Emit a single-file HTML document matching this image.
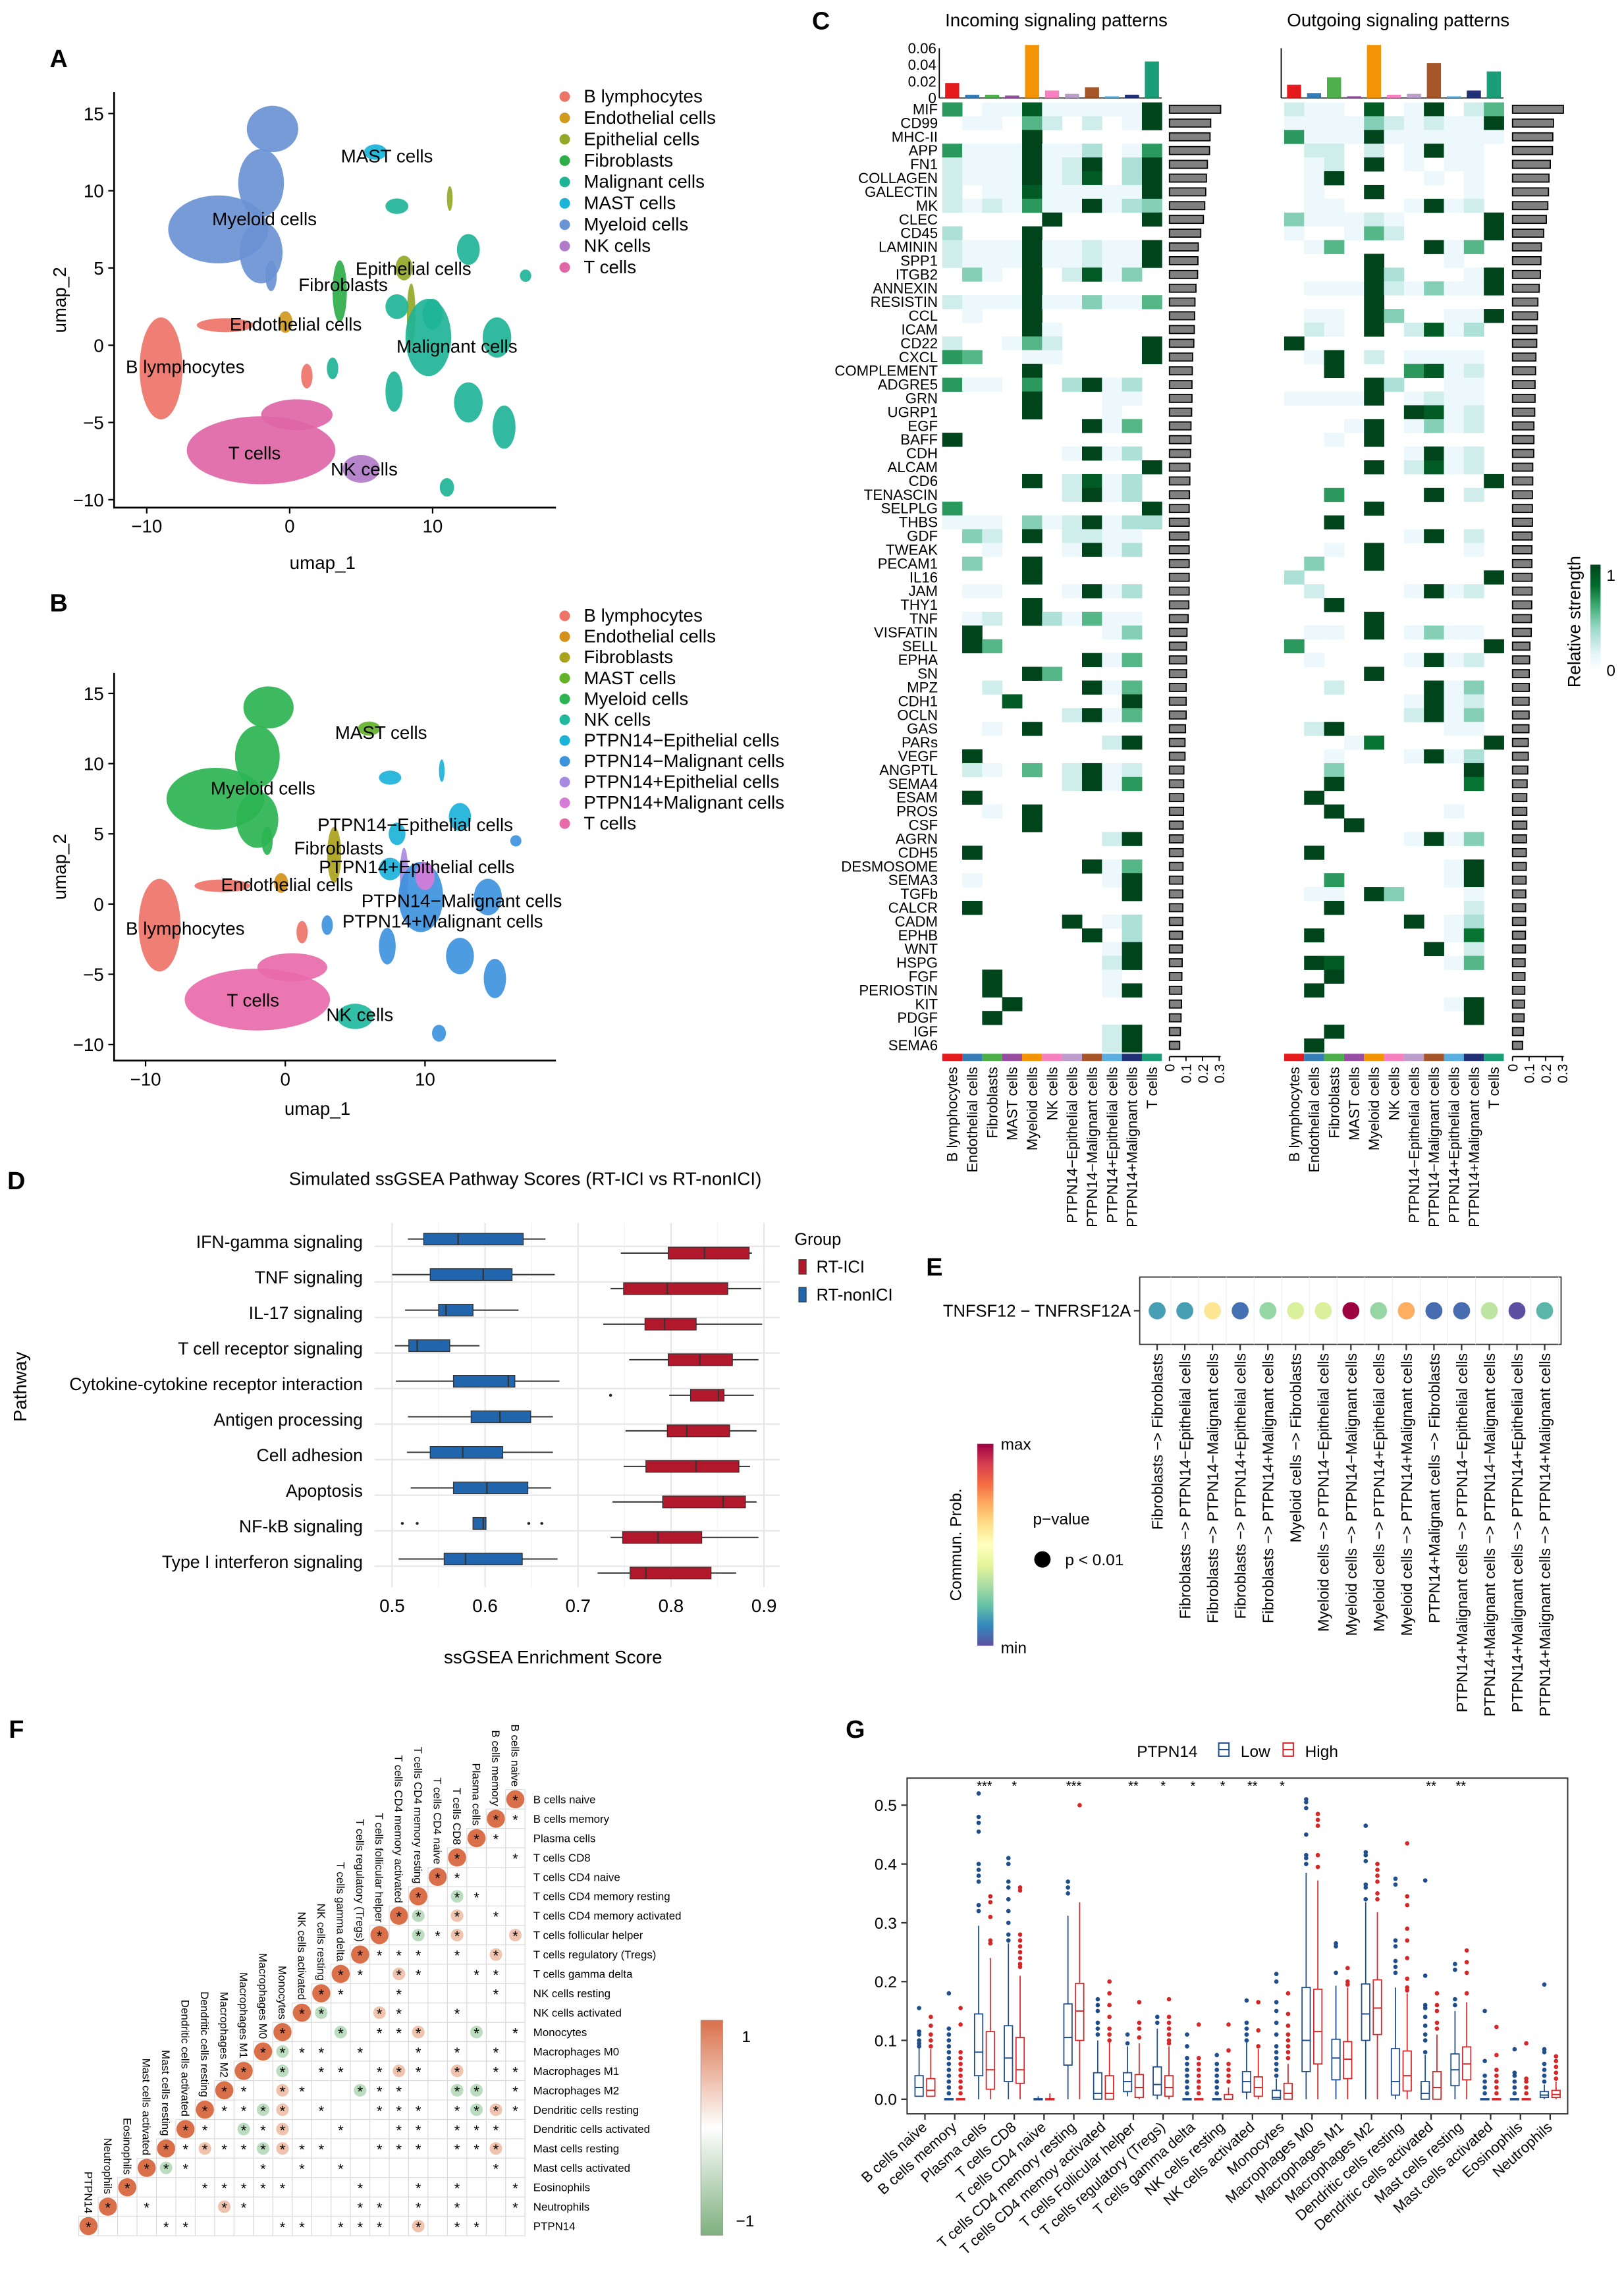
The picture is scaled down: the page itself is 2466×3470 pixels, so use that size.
<!DOCTYPE html>
<html><head><meta charset="utf-8">
<style>
html,body{margin:0;padding:0;background:#fff;}
svg{display:block;font-family:"Liberation Sans",Arial,sans-serif;}
</style></head>
<body>
<svg id="fig" xmlns="http://www.w3.org/2000/svg" width="2466" height="3470" viewBox="0 0 1110 1562" preserveAspectRatio="none">
<rect x="0" y="0" width="1110" height="1562" fill="#fff"/>
<!-- panel letters -->
<text x="34" y="46" font-size="17" font-weight="bold">A</text>
<text x="34" y="418" font-size="17" font-weight="bold">B</text>
<text x="555" y="20" font-size="17" font-weight="bold">C</text>
<text x="5" y="813" font-size="17" font-weight="bold">D</text>
<text x="633" y="872" font-size="17" font-weight="bold">E</text>
<text x="6" y="1188" font-size="17" font-weight="bold">F</text>
<text x="578" y="1188" font-size="17" font-weight="bold">G</text>

<g id="pA"></g>
<g id="pB"></g>
<g id="pC"></g>
<g id="pD"></g>
<g id="pE"></g>
<g id="pF"></g>
<g id="pG"></g>

<defs>
<linearGradient id="gradBuGn" x1="0" y1="1" x2="0" y2="0">
<stop offset="0" stop-color="#ffffff"/><stop offset="0.15" stop-color="#e5f5f9"/><stop offset="0.4" stop-color="#99d8c9"/><stop offset="0.6" stop-color="#41ae76"/><stop offset="0.8" stop-color="#006d2c"/><stop offset="1" stop-color="#00441b"/>
</linearGradient>
<linearGradient id="gradSpec" x1="0" y1="1" x2="0" y2="0">
<stop offset="0" stop-color="#5e4fa2"/><stop offset="0.1" stop-color="#3288bd"/><stop offset="0.2" stop-color="#66c2a5"/><stop offset="0.3" stop-color="#abdda4"/><stop offset="0.4" stop-color="#e6f598"/><stop offset="0.5" stop-color="#ffffbf"/><stop offset="0.6" stop-color="#fee08b"/><stop offset="0.7" stop-color="#fdae61"/><stop offset="0.8" stop-color="#f46d43"/><stop offset="0.9" stop-color="#d53e4f"/><stop offset="1" stop-color="#9e0142"/>
</linearGradient>
<linearGradient id="gradCor" x1="0" y1="1" x2="0" y2="0">
<stop offset="0" stop-color="#7fb07f"/><stop offset="0.5" stop-color="#ffffff"/><stop offset="1" stop-color="#d9704a"/>
</linearGradient>
</defs>
</svg>
<script>
const NS='http://www.w3.org/2000/svg';
const svg=document.getElementById('fig');
function el(tag,parent){const e=document.createElementNS(NS,tag);(parent||svg).appendChild(e);return e;}
function at(e,o){for(const k in o)e.setAttribute(k,o[k]);return e;}
function txt(parent,s,o){const t=el('text',parent);at(t,o);t.textContent=s;return t;}
function lerpCol(stops,v){v=Math.max(0,Math.min(1,v));for(let i=1;i<stops.length;i++){if(v<=stops[i][0]){const a=stops[i-1],b=stops[i];const f=(v-a[0])/(b[0]-a[0]);const ca=parseInt(a[1].slice(1),16),cb=parseInt(b[1].slice(1),16);const r=Math.round(((ca>>16)&255)*(1-f)+((cb>>16)&255)*f),g=Math.round(((ca>>8)&255)*(1-f)+((cb>>8)&255)*f),bl=Math.round((ca&255)*(1-f)+(cb&255)*f);return 'rgb('+r+','+g+','+bl+')';}}return stops[stops.length-1][1];}
const BUGN=[[0,'#ffffff'],[0.15,'#e5f5f9'],[0.4,'#99d8c9'],[0.6,'#41ae76'],[0.8,'#006d2c'],[1,'#00441b']];
const SPEC=[[0,'#5e4fa2'],[0.1,'#3288bd'],[0.2,'#66c2a5'],[0.3,'#abdda4'],[0.4,'#e6f598'],[0.5,'#ffffbf'],[0.6,'#fee08b'],[0.7,'#fdae61'],[0.8,'#f46d43'],[0.9,'#d53e4f'],[1,'#9e0142']];

/* ================= DATA: UMAP A ================= */
const umapA_cats=['B lymphocytes','Endothelial cells','Epithelial cells','Fibroblasts','Malignant cells','MAST cells','Myeloid cells','NK cells','T cells'];
const umapA_colors=['#EE7468','#D09A1E','#93A828','#2EAD4A','#1FB497','#1BB3D8','#6A93D4','#B07BC8','#E066A6'];
const umapA_cx=[-1.2,-2,-5,-2,-1.3, 6, 3.5, 8,8.5,11.2, -0.3, -9,-4.5,1.2, -2,0.5, 5, 7.5,9.7,14.5,12.5,7.3,15,11,12.5,16.5,7.5,3,10];
const umapA_cy=[14,10.5,7.5,6,4.5, 12.5, 3.5, 5,2,9.5, 1.5, -1.5,1.3,-2, -6.8,-4.5, -8, 2.5,0.5,0.5,-3.7,-3,-5.3,-9.2,6.2,4.5,9,-1.5,2];
const umapA_rx=[1.8,1.6,3.5,1.5,0.4, 0.8, 0.5, 0.6,0.3,0.2, 0.5, 1.5,2,0.4, 5.2,2.5, 1.3, 0.8,1.6,1,1,0.6,0.8,0.5,0.8,0.4,0.8,0.4,0.7];
const umapA_ry=[1.5,2.2,2.2,2,1, 0.5, 2, 0.8,2,0.8, 0.7, 3.3,0.45,0.8, 2.2,1, 0.9, 0.8,2.5,1.3,1.3,1.3,1.4,0.6,1,0.4,0.5,0.7,1];
const umapA_cat=[6,6,6,6,6, 5, 3, 2,2,2, 1, 0,0,0, 8,8, 7, 4,4,4,4,4,4,4,4,4,4,4,4];
/* ================= DATA: UMAP B ================= */
const umapB_cats=['B lymphocytes','Endothelial cells','Fibroblasts','MAST cells','Myeloid cells','NK cells','PTPN14\u2212Epithelial cells','PTPN14\u2212Malignant cells','PTPN14+Epithelial cells','PTPN14+Malignant cells','T cells'];
const umapB_colors=['#EE7468','#D3901A','#A9A21C','#64B22A','#2DB452','#22B8A0','#1CB3D9','#3E93DE','#A889E0','#D57CD9','#E86AAB'];
const umapB_cat=[4,4,4,4,4, 3, 2, 6,8,6, 1, 0,0,0, 10,10, 5, 6,7,7,7,7,7,7,6,7,6,7,9];

/* ================= DATA: HEATMAP C ================= */
const pathways=['MIF','CD99','MHC-II','APP','FN1','COLLAGEN','GALECTIN','MK','CLEC','CD45','LAMININ','SPP1','ITGB2','ANNEXIN','RESISTIN','CCL','ICAM','CD22','CXCL','COMPLEMENT','ADGRE5','GRN','UGRP1','EGF','BAFF','CDH','ALCAM','CD6','TENASCIN','SELPLG','THBS','GDF','TWEAK','PECAM1','IL16','JAM','THY1','TNF','VISFATIN','SELL','EPHA','SN','MPZ','CDH1','OCLN','GAS','PARs','VEGF','ANGPTL','SEMA4','ESAM','PROS','CSF','AGRN','CDH5','DESMOSOME','SEMA3','TGFb','CALCR','CADM','EPHB','WNT','HSPG','FGF','PERIOSTIN','KIT','PDGF','IGF','SEMA6'];
const cellGroups=['B lymphocytes','Endothelial cells','Fibroblasts','MAST cells','Myeloid cells','NK cells','PTPN14\u2212Epithelial cells','PTPN14\u2212Malignant cells','PTPN14+Epithelial cells','PTPN14+Malignant cells','T cells'];
const groupColors=['#E41A1C','#377EB8','#4DAF4A','#984EA3','#F29403','#F781BF','#BC9DCC','#A65628','#5AAFE0','#222F75','#1B9E77'];
const incomingMatrix=["60118111119","01105202019","00009000000","61119113016","21119129039","21119128039","20118111119","21216119134","00000900009","30009000000","21119112119","21119112119","04109028140","00009000000","21119114115","01009000000","00009100000","20015200009","65001100009","00009000000","61106039130","00009000110","00009000100","00000009150","90000000000","00000019130","00000000009","00009028130","00000029130","60000000009","11104129133","04209022110","00100019130","04009000000","00009000000","01100019130","00009000000","01209315110","09000000140","09500000000","00000009150","00009500000","00200009150","00080000090","00000029150","00109000000","00000000290","09000000000","02105029120","00000029160","09000000000","00109000000","00009000000","00000000290","09000000000","00000009150","01000000190","00000000090","09000000000","00000090130","00000009030","00000000190","00000000290","00900000100","00900000190","00090000000","00900000000","00000000290","00000000290"];
const outgoingMatrix=["21108019025","11114212119","61119111111","02202019110","01209010110","01900001010","01009000010","01100019120","41112100009","10015200009","01500009150","00009000100","00009300019","01119214119","00009000000","01109400119","02109028130","90000000000","01902011110","00900068120","00009300110","11119012110","00000098120","00019014120","00109000000","00000019120","00009028120","00000000009","00600009020","00009000000","00900000000","00000019020","00109000010","04009000000","30000000009","02000019120","00900000000","00009000000","01109014110","60000000009","01000019120","00009000000","00200009140","00000019120","00000029140","02900000110","00017000009","00100019130","00400000090","00900000070","09000000000","00900000100","00090000000","00000019140","09000000000","00000000190","00600000190","01109400010","00900000020","00000090130","09000000170","00000009020","09800000150","00900000000","09000000000","00000000190","00000000090","00900000000","09000000000"];
const incomingTotals=[0.309,0.249,0.245,0.242,0.229,0.223,0.219,0.213,0.205,0.189,0.174,0.172,0.170,0.160,0.154,0.152,0.150,0.147,0.140,0.138,0.136,0.136,0.134,0.130,0.130,0.127,0.123,0.123,0.121,0.119,0.119,0.118,0.119,0.119,0.119,0.119,0.117,0.113,0.106,0.103,0.103,0.103,0.101,0.101,0.101,0.097,0.094,0.094,0.087,0.086,0.086,0.085,0.083,0.083,0.083,0.082,0.081,0.081,0.081,0.081,0.079,0.078,0.077,0.075,0.074,0.073,0.070,0.066,0.062];
const outgoingTotals=[0.307,0.247,0.243,0.241,0.228,0.220,0.217,0.213,0.204,0.188,0.174,0.171,0.168,0.161,0.153,0.151,0.147,0.146,0.141,0.139,0.136,0.136,0.134,0.129,0.129,0.128,0.122,0.122,0.120,0.120,0.120,0.118,0.117,0.117,0.118,0.118,0.116,0.114,0.113,0.105,0.103,0.101,0.101,0.100,0.100,0.099,0.095,0.095,0.092,0.088,0.086,0.086,0.086,0.084,0.083,0.083,0.082,0.080,0.079,0.079,0.078,0.078,0.076,0.075,0.074,0.072,0.070,0.066,0.061];
const incomingColTotals=[0.018,0.004,0.004,0.003,0.064,0.009,0.005,0.013,0.002,0.004,0.044];
const outgoingColTotals=[0.016,0.006,0.025,0.002,0.064,0.004,0.005,0.042,0.002,0.009,0.032];
const totalTicks=[0,0.1,0.2,0.3];
const topTicks=[0,0.02,0.04,0.06];

/* ================= DATA: BOXPLOT D ================= */
const pathwaysD=['IFN-gamma signaling','TNF signaling','IL-17 signaling','T cell receptor signaling','Cytokine-cytokine receptor interaction','Antigen processing','Cell adhesion','Apoptosis','NF-kB signaling','Type I interferon signaling'];
const nonICI_stats=[[0.517,0.534,0.571,0.641,0.665],[0.500,0.541,0.598,0.629,0.675],[0.514,0.550,0.558,0.587,0.636],[0.503,0.518,0.527,0.562,0.594],[0.504,0.566,0.625,0.632,0.680],[0.517,0.585,0.616,0.649,0.673],[0.516,0.541,0.576,0.619,0.673],[0.520,0.566,0.602,0.646,0.671],[0.587,0.587,0.598,0.601,0.601],[0.507,0.556,0.579,0.640,0.678]];
const ICI_stats=[[0.746,0.797,0.836,0.884,0.887],[0.735,0.749,0.796,0.861,0.897],[0.727,0.772,0.793,0.827,0.898],[0.755,0.797,0.831,0.866,0.894],[0.798,0.821,0.851,0.857,0.889],[0.751,0.796,0.817,0.863,0.892],[0.749,0.773,0.827,0.873,0.885],[0.737,0.791,0.856,0.880,0.892],[0.735,0.748,0.786,0.833,0.894],[0.721,0.756,0.773,0.843,0.870]];
const nonICI_out=[[],[],[],[],[],[],[],[],[0.511,0.527,0.647,0.661],[]];
const ICI_out=[[],[],[],[],[0.735],[],[],[],[],[]];
const xTicksD=[0.5,0.6,0.7,0.8,0.9];

/* ================= DATA: DOTPLOT E ================= */
const pairsE=['Fibroblasts \u2212> Fibroblasts','Fibroblasts \u2212> PTPN14\u2212Epithelial cells','Fibroblasts \u2212> PTPN14\u2212Malignant cells','Fibroblasts \u2212> PTPN14+Epithelial cells','Fibroblasts \u2212> PTPN14+Malignant cells','Myeloid cells \u2212> Fibroblasts','Myeloid cells \u2212> PTPN14\u2212Epithelial cells','Myeloid cells \u2212> PTPN14\u2212Malignant cells','Myeloid cells \u2212> PTPN14+Epithelial cells','Myeloid cells \u2212> PTPN14+Malignant cells','PTPN14+Malignant cells \u2212> Fibroblasts','PTPN14+Malignant cells \u2212> PTPN14\u2212Epithelial cells','PTPN14+Malignant cells \u2212> PTPN14\u2212Malignant cells','PTPN14+Malignant cells \u2212> PTPN14+Epithelial cells','PTPN14+Malignant cells \u2212> PTPN14+Malignant cells'];
const probE=[0.14,0.14,0.58,0.06,0.27,0.38,0.38,1.0,0.27,0.7,0.05,0.05,0.33,0.0,0.18];

/* ================= DATA: CORRPLOT F ================= */
const cellsF=['B cells naive','B cells memory','Plasma cells','T cells CD8','T cells CD4 naive','T cells CD4 memory resting','T cells CD4 memory activated','T cells follicular helper','T cells regulatory (Tregs)','T cells gamma delta','NK cells resting','NK cells activated','Monocytes','Macrophages M0','Macrophages M1','Macrophages M2','Dendritic cells resting','Dendritic cells activated','Mast cells resting','Mast cells activated','Eosinophils','Neutrophils','PTPN14'];
const corrMarks=["","*",".*","*..","...*","..*g.",".*.p.g","p..p*g.",".p.*.***",".**..*p.*",".*....*..*","...*..*p..g","*.g..p**.g..",".*.*.*..*.**g","**.p.*p*.**.g.","*.gg..**g..*p.*","*pg*.***..*.pg**",".***.**..*..p*g.*",".p**.***..**pg**p*",".*.......*.*.*...*g","*..*.*..*...*****...","*..*.*.**.....*p...*.","..**.p.***.**....**...."];

/* ================= DATA: BOXPLOT G ================= */
const cellsG=['B cells naive','B cells memory','Plasma cells','T cells CD8','T cells CD4 naive','T cells CD4 memory resting','T cells CD4 memoy activated','T cells Follicular helper','T cells regulatory (Tregs)','T cells gamma delta','NK cells resting','NK cells activated','Monocytes','Macrophages M0','Macrophages M1','Macrophages M2','Dendritic cells resting','Dendritic cells activated','Mast cells resting','Mast cells activated','Eosinophils','Neutrophils'];
const lowStats=[[0.005,0.005,0.02,0.04,0.09],[0,0,0,0.001,0.002],[0,0.04,0.08,0.145,0.295],[0,0.03,0.07,0.125,0.265],[0,0,0,0.001,0.005],[0,0.058,0.105,0.162,0.312],[0,0,0.01,0.045,0.1],[0.005,0.013,0.03,0.045,0.09],[0,0.007,0.025,0.055,0.12],[0,0,0,0.001,0.002],[0,0,0,0.001,0.002],[0,0.012,0.03,0.047,0.1],[0,0,0.003,0.015,0.035],[0,0.047,0.1,0.19,0.385],[0,0.033,0.07,0.102,0.193],[0,0.1,0.145,0.196,0.335],[0,0.007,0.03,0.086,0.19],[0,0,0.01,0.03,0.075],[0,0.023,0.05,0.077,0.15],[0,0,0,0.001,0.002],[0,0,0,0.001,0.002],[0,0.003,0.007,0.013,0.025]];
const highStats=[[0.005,0.005,0.015,0.035,0.085],[0,0,0,0.001,0.002],[0,0.017,0.05,0.115,0.24],[0,0.027,0.05,0.105,0.21],[0,0,0,0.001,0.01],[0,0.1,0.15,0.197,0.335],[0,0,0.01,0.04,0.1],[0,0.003,0.02,0.042,0.095],[0,0.005,0.02,0.04,0.09],[0,0,0,0.001,0.002],[0,0,0,0.008,0.02],[0,0.005,0.02,0.038,0.085],[0,0,0.01,0.027,0.06],[0,0.06,0.115,0.187,0.372],[0,0.035,0.068,0.098,0.19],[0,0.11,0.155,0.203,0.318],[0,0.014,0.04,0.082,0.18],[0,0,0.02,0.047,0.11],[0,0.033,0.06,0.089,0.165],[0,0,0,0.001,0.002],[0,0,0,0.001,0.002],[0,0.003,0.008,0.015,0.03]];
const lowOutliers=[[0.09,0.095,0.1,0.11,0.115,0.155],[0.01,0.02,0.03,0.04,0.05,0.06,0.07,0.08,0.09,0.1,0.11,0.12,0.18],[0.32,0.33,0.37,0.38,0.39,0.4,0.455,0.47,0.48,0.52],[0.27,0.28,0.3,0.32,0.34,0.36,0.37,0.4,0.41],[],[0.35,0.36,0.37],[0.11,0.12,0.13,0.15,0.16,0.17],[0.095,0.11],[0.13,0.14],[0.01,0.02,0.03,0.04,0.05,0.06,0.07,0.09,0.11],[0.01,0.02,0.03,0.04,0.05,0.06,0.075],[0.1,0.11,0.12,0.13,0.168],[0.04,0.05,0.06,0.07,0.08,0.09,0.11,0.13,0.15,0.165,0.2,0.213],[0.4,0.41,0.415,0.45,0.495,0.505,0.51],[0.215,0.26,0.265],[0.34,0.36,0.365,0.405,0.415,0.42,0.465],[0.215,0.225,0.235,0.26,0.27,0.365,0.375],[0.08,0.1,0.11,0.125,0.14,0.155,0.16,0.21,0.372],[0.16,0.17,0.22,0.23],[0.01,0.02,0.03,0.04,0.065,0.15],[0.01,0.02,0.03,0.04,0.045,0.085],[0.03,0.04,0.05,0.06,0.08,0.085,0.195]];
const highOutliers=[[0.09,0.1,0.11,0.125,0.14],[0.01,0.02,0.03,0.04,0.05,0.06,0.07,0.08,0.127,0.155],[0.265,0.27,0.31,0.335,0.345],[0.225,0.23,0.24,0.25,0.26,0.27,0.28,0.355,0.36],[],[0.5],[0.1,0.11,0.12,0.14,0.16,0.18,0.2],[0.105,0.12,0.13,0.165],[0.095,0.1,0.11,0.12,0.13,0.14,0.17],[0.01,0.02,0.03,0.04,0.05,0.06,0.07,0.127],[0.03,0.04,0.05,0.06,0.083,0.127],[0.09,0.117,0.165],[0.07,0.08,0.09,0.1,0.11,0.125,0.145,0.18],[0.395,0.415,0.465,0.475,0.485],[0.195,0.2,0.223],[0.34,0.35,0.37,0.38,0.39,0.4],[0.185,0.19,0.205,0.24,0.27,0.29,0.33,0.345,0.435],[0.12,0.13,0.15,0.16,0.18],[0.18,0.215,0.233,0.253],[0.01,0.02,0.03,0.04,0.05,0.075,0.123],[0.01,0.02,0.03,0.035,0.095],[0.035,0.045,0.055,0.065,0.073]];
const sigLabels=['','','***','*','','***','','**','*','*','*','**','*','','','','','**','**','','',''];
const yTicksG=[0,0.1,0.2,0.3,0.4,0.5];

/* ================= DRAW UMAP ================= */
function drawUmap(gid,sx,sy,ox,oy,cats,colors,catIdx,legendY,legendStep,labels,yTop,xAxisY,tickXs,tickYs,titleY){
  const g=document.getElementById(gid);
  const X=v=>ox+sx*v, Y=v=>oy-sy*v;
  for(let i=0;i<umapA_cx.length;i++){
    const e=at(el('ellipse',g),{cx:X(umapA_cx[i]),cy:Y(umapA_cy[i]),rx:sx*umapA_rx[i],ry:sy*umapA_ry[i],fill:colors[catIdx[i]],opacity:0.92});
    
    
  }
  const ax=at(el('path',g),{d:'M78,'+yTop+' V'+xAxisY+' H380',stroke:'#000','stroke-width':1.2,fill:'none'});
  
  
  tickXs.forEach(v=>{const t=at(el('line',g),{x1:X(v),x2:X(v),y1:xAxisY,y2:xAxisY+4,stroke:'#000'});
    const l=txt(g,(v<0?'\u2212':'')+Math.abs(v),{x:X(v),y:xAxisY+17,'font-size':12.5,'text-anchor':'middle'});});
  tickYs.forEach(v=>{const t=at(el('line',g),{x1:74,x2:78,y1:Y(v),y2:Y(v),stroke:'#000'});
    const l=txt(g,(v<0?'\u2212':'')+Math.abs(v),{x:71,y:Y(v)+4.5,'font-size':12.5,'text-anchor':'end'});});
  const xt=txt(g,'umap_1',{x:X(2.3),y:titleY,'font-size':12.5,'text-anchor':'middle'});
  const yc=(yTop+xAxisY)/2;
  const yt=txt(g,'umap_2',{x:0,y:0,'font-size':12.5,'text-anchor':'middle',transform:'translate(45,'+yc+') rotate(-90)'});
  cats.forEach((c,i)=>{const d=at(el('circle',g),{cx:386,cy:legendY+i*legendStep-4,r:3.6,fill:colors[i]});
    const l=txt(g,c,{x:399,y:legendY+i*legendStep,'font-size':12.5});});
  labels.forEach(L=>{const l=txt(g,L[0],{x:L[1],y:L[2],'font-size':12.5});});
}
drawUmap('pA',9.77,10.56,198,236,umapA_cats,umapA_colors,umapA_cat,70,14.6,
 [['MAST cells',233,111],['Myeloid cells',145,154],['Epithelial cells',243,188],['Fibroblasts',204,199],['Endothelial cells',157,226],['Malignant cells',271,241],['B lymphocytes',86,255],['T cells',156,314],['NK cells',226,325]],
 63,347,[-10,0,10],[15,10,5,0,-5,-10],389);
drawUmap('pB',9.55,9.6,195,618,umapB_cats,umapB_colors,umapB_cat,425,14.2,
 [['MAST cells',229,505],['Myeloid cells',144,543],['PTPN14\u2212Epithelial cells',217,568],['Fibroblasts',201,584],['PTPN14+Epithelial cells',218,597],['Endothelial cells',151,609],['PTPN14\u2212Malignant cells',247,620],['PTPN14+Malignant cells',234,634],['B lymphocytes',86,639],['T cells',155,688],['NK cells',223,698]],
 460,725,[-10,0,10],[15,10,5,0,-5,-10],762);

/* ================= DRAW HEATMAPS C ================= */
(function(){
  const g=document.getElementById('pC');
  const rowH=9.41, top=70, colW=13.65;
  const panels=[{x0:644,bx:799.3,mat:incomingMatrix,tot:incomingTotals,col:incomingColTotals,title:'Incoming signaling patterns',labels:true},
                {x0:877.7,bx:1033.8,mat:outgoingMatrix,tot:outgoingTotals,col:outgoingColTotals,title:'Outgoing signaling patterns',labels:false}];
  const barScale=113.3; // px per unit
  const topScale=567;
  panels.forEach(P=>{
    const t=txt(g,P.title,{x:P.x0+78,y:18,'font-size':12.5,'text-anchor':'middle'});
    for(let r=0;r<pathways.length;r++){
      for(let c=0;c<cellGroups.length;c++){
        const v=parseInt(P.mat[r][c])/9;
        if(v===0)continue;
        const rc=at(el('rect',g),{x:P.x0+c*colW,y:top+r*rowH,width:colW+0.2,height:rowH+0.2,fill:lerpCol(BUGN,v)});
        
        
      }
      const b=at(el('rect',g),{x:P.bx,y:top+r*rowH+2,width:P.tot[r]*barScale,height:rowH-4,fill:'#808080',stroke:'#000','stroke-width':0.8});
      
      
      if(P.labels){const l=txt(g,pathways[r],{x:641,y:top+r*rowH+rowH-1.3,'font-size':10,'text-anchor':'end'});}
    }
    const bot=top+pathways.length*rowH;
    // bar axis
    const ax=at(el('line',g),{x1:P.bx,x2:P.bx+0.3*barScale+1,y1:bot+3,y2:bot+3,stroke:'#000','stroke-width':0.8});
    totalTicks.forEach(v=>{const tk=at(el('line',g),{x1:P.bx+v*barScale,x2:P.bx+v*barScale,y1:bot+3,y2:bot+6,stroke:'#000','stroke-width':0.8});
      const tl=txt(g,String(v),{x:0,y:0,'font-size':9.5,'text-anchor':'end',transform:'translate('+(P.bx+v*barScale+3.5)+','+(bot+8)+') rotate(-90)'});});
    // color strip + labels + top bars
    const ax2=at(el('line',g),{x1:P.x0-2,x2:P.x0-2,y1:33,y2:67,stroke:'#000','stroke-width':0.8});
    const ax3=at(el('line',g),{x1:P.x0-2,x2:P.x0+150,y1:67,y2:67,stroke:'#000','stroke-width':0.6});
    if(P.labels){topTicks.forEach(v=>{const tl=txt(g,String(v),{x:P.x0-4,y:67-v*topScale+3.5,'font-size':10,'text-anchor':'end'});});}
    for(let c=0;c<cellGroups.length;c++){
      const s=at(el('rect',g),{x:P.x0+c*colW,y:bot+1,width:colW,height:5,fill:groupColors[c]});
      const h=P.col[c]*topScale;
      const tb=at(el('rect',g),{x:P.x0+c*colW+2,y:67-h,width:colW-4,height:h,fill:groupColors[c]});
      const cl=txt(g,cellGroups[c],{x:0,y:0,'font-size':10,'text-anchor':'end',transform:'translate('+(P.x0+c*colW+colW/2+3.5)+','+(bot+10)+') rotate(-90)'});
    }
  });
  const cb=at(el('rect',g),{x:1087,y:386,width:7,height:72,fill:'url(#gradBuGn)'});
  const c1=txt(g,'1',{x:1098,y:397,'font-size':11});
  const c0=txt(g,'0',{x:1098,y:462,'font-size':11});
  const ct=txt(g,'Relative strength',{x:0,y:0,'font-size':12,'text-anchor':'middle',transform:'translate(1080,425) rotate(-90)'});
})();

/* ================= DRAW BOXPLOT D ================= */
(function(){
  const g=document.getElementById('pD');
  const X=v=>268+(v-0.5)*635.5;
  const rowY=i=>852+i*24.3;
  const top=836,bot=1085;
  const tt=txt(g,'Simulated ssGSEA Pathway Scores (RT-ICI vs RT-nonICI)',{x:359,y:810,'font-size':12.5,'text-anchor':'middle'});
  [0.55,0.65,0.75,0.85].forEach(v=>{const l=at(el('line',g),{x1:X(v),x2:X(v),y1:top,y2:bot,stroke:'#f2f2f2','stroke-width':0.6});});
  xTicksD.forEach(v=>{const l=at(el('line',g),{x1:X(v),x2:X(v),y1:top,y2:bot,stroke:'#e6e6e6','stroke-width':1});
    const tl=txt(g,v.toFixed(1),{x:X(v),y:1102,'font-size':12.5,'text-anchor':'middle'});});
  pathwaysD.forEach((p,i)=>{const l=at(el('line',g),{x1:256,x2:533,y1:rowY(i),y2:rowY(i),stroke:'#e6e6e6','stroke-width':1});
    const tl=txt(g,p,{x:248,y:rowY(i)+1,'font-size':12,'text-anchor':'end'});});
  function box(s,outs,yc,fill,name){
    const w=at(el('line',g),{x1:X(s[0]),x2:X(s[4]),y1:yc,y2:yc,stroke:'#333','stroke-width':0.9});
    const r=at(el('rect',g),{x:X(s[1]),y:yc-4,width:Math.max(1,X(s[3])-X(s[1])),height:8,fill:fill,stroke:'#333','stroke-width':0.6});
    const m=at(el('line',g),{x1:X(s[2]),x2:X(s[2]),y1:yc-4,y2:yc+4,stroke:'#333','stroke-width':1});
    outs.forEach(o=>{const c=at(el('circle',g),{cx:X(o),cy:yc,r:1,fill:'#222'});});
  }
  pathwaysD.forEach((p,i)=>{box(nonICI_stats[i],nonICI_out[i],rowY(i)-5,'#2166ac','rt-nonici');box(ICI_stats[i],ICI_out[i],rowY(i)+4.6,'#b2182b','rt-ici');});
  const xt=txt(g,'ssGSEA Enrichment Score',{x:378,y:1137,'font-size':12.5,'text-anchor':'middle'});
  const yt=txt(g,'Pathway',{x:0,y:0,'font-size':12.5,'text-anchor':'middle',transform:'translate(18,948) rotate(-90)'});
  const lg=txt(g,'Group',{x:543,y:851,'font-size':11.5});
  [['RT-ICI','#b2182b',867],['RT-nonICI','#2166ac',886]].forEach(L=>{
    const k=at(el('rect',g),{x:546,y:L[2]-6,width:5,height:10,fill:L[1],stroke:'#333','stroke-width':0.5});
    const t=txt(g,L[0],{x:558,y:L[2]+3,'font-size':11.5});});
})();

/* ================= DRAW DOTPLOT E ================= */
(function(){
  const g=document.getElementById('pE');
  const X=i=>790.9+i*18.92, yc=896;
  const fr=at(el('rect',g),{x:779,y:873,width:288,height:46,fill:'none',stroke:'#333','stroke-width':0.8});
  const yl=txt(g,'TNFSF12 \u2212 TNFRSF12A',{x:773,y:yc+4,'font-size':11.5,'text-anchor':'end'});
  const ytk=at(el('line',g),{x1:775,x2:779,y1:yc,y2:yc,stroke:'#333'});
  pairsE.forEach((p,i)=>{
    const gl=at(el('line',g),{x1:X(i)+9.46,x2:X(i)+9.46,y1:873,y2:919,stroke:'#eee','stroke-width':0.5});
    const d=at(el('ellipse',g),{cx:X(i),cy:yc,rx:5.8,ry:5.9,fill:lerpCol(SPEC,probE[i])});
    const tk=at(el('line',g),{x1:X(i),x2:X(i),y1:919,y2:923,stroke:'#333'});
    const l=txt(g,p,{x:0,y:0,'font-size':10.5,'text-anchor':'end',transform:'translate('+(X(i)+3.8)+',925) rotate(-90)'});
  });
  const cb=at(el('rect',g),{x:668,y:987,width:11,height:138,fill:'url(#gradSpec)'});
  const mx=txt(g,'max',{x:684,y:991,'font-size':11});
  const mn=txt(g,'min',{x:684,y:1130,'font-size':11});
  const ct=txt(g,'Commun. Prob.',{x:0,y:0,'font-size':11,'text-anchor':'middle',transform:'translate(657,1056) rotate(-90)'});
  const pv=txt(g,'p\u2212value',{x:706,y:1042,'font-size':11});
  const pd=at(el('circle',g),{cx:712.5,cy:1066,r:5.6,fill:'#000'});
  const pl=txt(g,'p < 0.01',{x:728,y:1070,'font-size':11});
})();

/* ================= DRAW CORRPLOT F ================= */
(function(){
  const g=document.getElementById('pF');
  const s=13.26, x0=352.2, y0=1230;
  const CX=j=>x0-j*s, CY=i=>y0+i*s;
  for(let i=0;i<cellsF.length;i++){
    for(let j=0;j<=i;j++){
      const c=at(el('rect',g),{x:CX(j)-s/2,y:CY(i)-s/2,width:s,height:s,fill:'#fff',stroke:'#d9d9d9','stroke-width':0.5});
      
      
      let m=(j===i)?'D':(corrMarks[i][j]||'.');
      if(m==='D'||m==='p'||m==='g'){
        const circ=at(el('circle',g),{cx:CX(j),cy:CY(i),r:m==='D'?6.2:4.3,fill:m==='D'?'#d9704a':(m==='p'?'#efc3ae':'#bcdcc0')});
        
        
      }
      if(m!=='.'){
        const st=txt(g,'*',{x:CX(j),y:CY(i)+4.3,'font-size':10,'text-anchor':'middle'});
        
        
      }
    }
    const rl=txt(g,cellsF[i],{x:364.5,y:CY(i)+2.7,'font-size':7.6});
    const cl=txt(g,cellsF[i],{x:0,y:0,'font-size':7.6,'text-anchor':'end',transform:'translate('+(CX(i)-2.7)+','+(CY(i)-s/2-2)+') rotate(90)'});
  }
  const cb=at(el('rect',g),{x:479,y:1381,width:15,height:147,fill:'url(#gradCor)',stroke:'#999','stroke-width':0.4});
  const p1=txt(g,'1',{x:507,y:1396,'font-size':11});
  const m1=txt(g,'\u22121',{x:503,y:1522,'font-size':11});
})();

/* ================= DRAW BOXPLOT G ================= */
(function(){
  const g=document.getElementById('pG');
  const Y=v=>1435-v*402;
  const XC=i=>632.2+i*20.35;
  const fr=at(el('rect',g),{x:620,y:1215.5,width:451.5,height:229.5,fill:'none',stroke:'#333','stroke-width':0.9});
  yTicksG.forEach(v=>{const t=at(el('line',g),{x1:616,x2:620,y1:Y(v),y2:Y(v),stroke:'#333'});
    const l=txt(g,v.toFixed(1),{x:613,y:Y(v)+4,'font-size':11,'text-anchor':'end'});});
  function box(s,outs,xc,col,name){
    const w1=at(el('line',g),{x1:xc,x2:xc,y1:Y(s[0]),y2:Y(s[1]),stroke:col,'stroke-width':0.8});
    const w2=at(el('line',g),{x1:xc,x2:xc,y1:Y(s[3]),y2:Y(s[4]),stroke:col,'stroke-width':0.8});
    const r=at(el('rect',g),{x:xc-2.8,y:Y(s[3]),width:5.6,height:Math.max(0.8,Y(s[1])-Y(s[3])),fill:'#fff',stroke:col,'stroke-width':0.8});
    const m=at(el('line',g),{x1:xc-2.8,x2:xc+2.8,y1:Y(s[2]),y2:Y(s[2]),stroke:col,'stroke-width':0.9});
    outs.forEach(o=>{const c=at(el('circle',g),{cx:xc,cy:Y(o),r:1.5,fill:col});});
  }
  cellsG.forEach((c,i)=>{
    box(lowStats[i],lowOutliers[i],XC(i)-4,'#1f4e8c','low');
    box(highStats[i],highOutliers[i],XC(i)+4,'#d62728','high');
    const t=at(el('line',g),{x1:XC(i),x2:XC(i),y1:1445,y2:1449,stroke:'#333'});
    const l=txt(g,c,{x:0,y:0,'font-size':10,'text-anchor':'end',transform:'translate('+(XC(i)+2)+',1455) rotate(-42)'});
    if(sigLabels[i]){const s=txt(g,sigLabels[i],{x:XC(i),y:1224,'font-size':9,'text-anchor':'middle'});}
  });
  const lt=txt(g,'PTPN14',{x:777,y:1201,'font-size':11});
  [['Low','#1f4e8c',833],['High','#d62728',877]].forEach(L=>{
    const k=at(el('rect',g),{x:L[2],y:1191.5,width:7,height:9,fill:'#fff',stroke:L[1],'stroke-width':0.9});
    const km=at(el('line',g),{x1:L[2],x2:L[2]+7,y1:1196,y2:1196,stroke:L[1],'stroke-width':0.9});
    const t=txt(g,L[0],{x:L[2]+15,y:1201,'font-size':11});});
})();
</script>
</body></html>
